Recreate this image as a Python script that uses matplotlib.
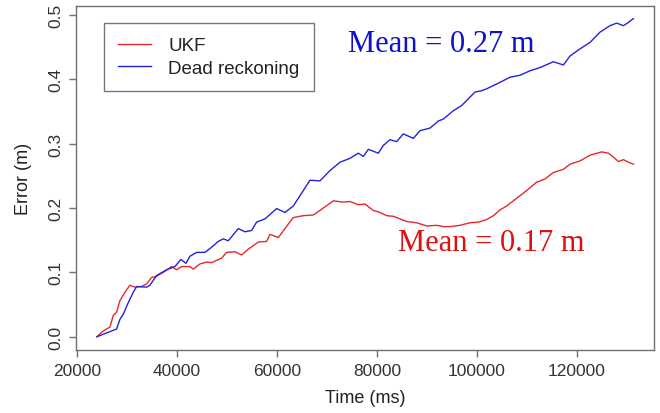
import matplotlib
matplotlib.use("Agg")
import matplotlib.pyplot as plt

# Data (time in ms, error in m)
ukf_time = [24000, 25270, 26600, 27270, 27930, 28600, 29600, 30600, 31600, 32930,
            33930, 34930, 35930, 37270, 38930, 39930, 40930, 42600, 43270, 44600,
            45930, 46930, 48930, 49930, 51600, 52930, 54270, 56270, 57930, 58600,
            60270, 62270, 63270, 65270, 67270, 68930, 71270, 73270, 74600, 76270,
            77600, 79270, 80270, 81930, 83270, 85930, 87930, 89930, 91930, 93270,
            94600, 96600, 98600, 100300, 101930, 103300, 104600, 105930, 107930, 109930,
            111930, 113600, 115270, 117270, 118600, 120600, 122600, 124930, 126270, 127270,
            128270, 129270, 130270, 131270]
ukf_err = [0.000, 0.009, 0.015, 0.033, 0.038, 0.056, 0.069, 0.080, 0.077, 0.078,
           0.082, 0.092, 0.094, 0.100, 0.109, 0.104, 0.109, 0.109, 0.105, 0.113,
           0.116, 0.115, 0.122, 0.131, 0.132, 0.127, 0.136, 0.147, 0.148, 0.159,
           0.154, 0.175, 0.185, 0.188, 0.189, 0.198, 0.211, 0.209, 0.210, 0.205,
           0.206, 0.196, 0.194, 0.188, 0.187, 0.179, 0.177, 0.172, 0.173, 0.171,
           0.171, 0.173, 0.177, 0.178, 0.182, 0.188, 0.197, 0.203, 0.215, 0.227,
           0.240, 0.245, 0.255, 0.260, 0.268, 0.273, 0.282, 0.287, 0.285, 0.279,
           0.272, 0.275, 0.271, 0.268]

dr_time = [24000, 27940, 28600, 29270, 30270, 31270, 31930, 33930, 34600, 35930,
           37930, 39600, 40800, 41800, 42600, 43930, 45600, 46930, 48270, 49270,
           50270, 52270, 53600, 54930, 55930, 57600, 59930, 61600, 63270, 64600,
           66600, 68600, 70600, 72600, 74600, 76270, 77270, 78270, 80270, 81270,
           82600, 83930, 85270, 87270, 88600, 90600, 92270, 93270, 95270, 96930,
           99600, 100930, 101930, 104600, 106600, 108600, 110600, 112600, 115270, 117270,
           118600, 120600, 122600, 124600, 126600, 127930, 129270, 130270, 131270]
dr_err = [0.000, 0.012, 0.027, 0.035, 0.053, 0.069, 0.078, 0.077, 0.080, 0.095,
          0.104, 0.109, 0.120, 0.114, 0.125, 0.131, 0.131, 0.139, 0.148, 0.152,
          0.149, 0.168, 0.163, 0.165, 0.178, 0.183, 0.199, 0.193, 0.203, 0.219,
          0.243, 0.242, 0.258, 0.271, 0.277, 0.285, 0.280, 0.291, 0.285, 0.297,
          0.306, 0.303, 0.315, 0.308, 0.320, 0.324, 0.335, 0.338, 0.351, 0.359,
          0.380, 0.382, 0.385, 0.395, 0.403, 0.406, 0.413, 0.418, 0.427, 0.422,
          0.436, 0.447, 0.457, 0.473, 0.483, 0.487, 0.483, 0.488, 0.494]

x_ticks = [20000, 40000, 60000, 80000, 100000, 120000]
y_ticks = [0.0, 0.1, 0.2, 0.3, 0.4, 0.5]
y_tick_labels = ["0.0", "0.1", "0.2", "0.3", "0.4", "0.5"]
ukf_mean_label = "Mean = 0.17 m"
dr_mean_label = "Mean = 0.27 m"

plt.rcParams['font.family'] = ['Liberation Sans', 'DejaVu Sans']

fig = plt.figure(figsize=(6.6, 4.14), dpi=100)
ax = fig.add_axes([0.115, 0.152, 0.876, 0.831])

ax.plot(ukf_time, ukf_err, color="#e8282c", lw=1.0, label="UKF")
ax.plot(dr_time, dr_err, color="#2222dd", lw=1.0, label="Dead reckoning")

ax.set_xlim(19800, 135400)
ax.set_ylim(-0.0207, 0.5135)
ax.set_xticks(x_ticks)
ax.set_xticklabels([str(v) for v in x_ticks])
ax.set_yticks(y_ticks)
ax.set_yticklabels(y_tick_labels, rotation=90, va="center")

for s in ax.spines.values():
    s.set_color("#707070")
    s.set_linewidth(1.0)
ax.tick_params(axis="both", colors="#707070", labelcolor="#333333",
               length=5, width=1.0, labelsize=12.5, pad=4)

ax.set_xlabel("Time (ms)", fontsize=13, color="#222222", labelpad=8)
ax.set_ylabel("Error (m)", fontsize=13, color="#222222", labelpad=12)

leg = ax.legend(loc="upper left", bbox_to_anchor=(0.048, 0.951), fontsize=13.5,
                frameon=True, fancybox=False, handlelength=1.8, handletextpad=0.9,
                borderpad=0.75, labelspacing=0.3, borderaxespad=0)
leg.get_frame().set_edgecolor("#555555")
leg.get_frame().set_linewidth(1.0)
for t in leg.get_texts():
    t.set_color("#222222")

ax.text(0.471, 0.89, dr_mean_label, transform=ax.transAxes,
        family="Liberation Serif", fontsize=22, color="#1111cc", va="center", ha="left")
ax.text(0.557, 0.312, ukf_mean_label, transform=ax.transAxes,
        family="Liberation Serif", fontsize=22, color="#dd1111", va="center", ha="left")

fig.savefig("out.png", dpi=100)
